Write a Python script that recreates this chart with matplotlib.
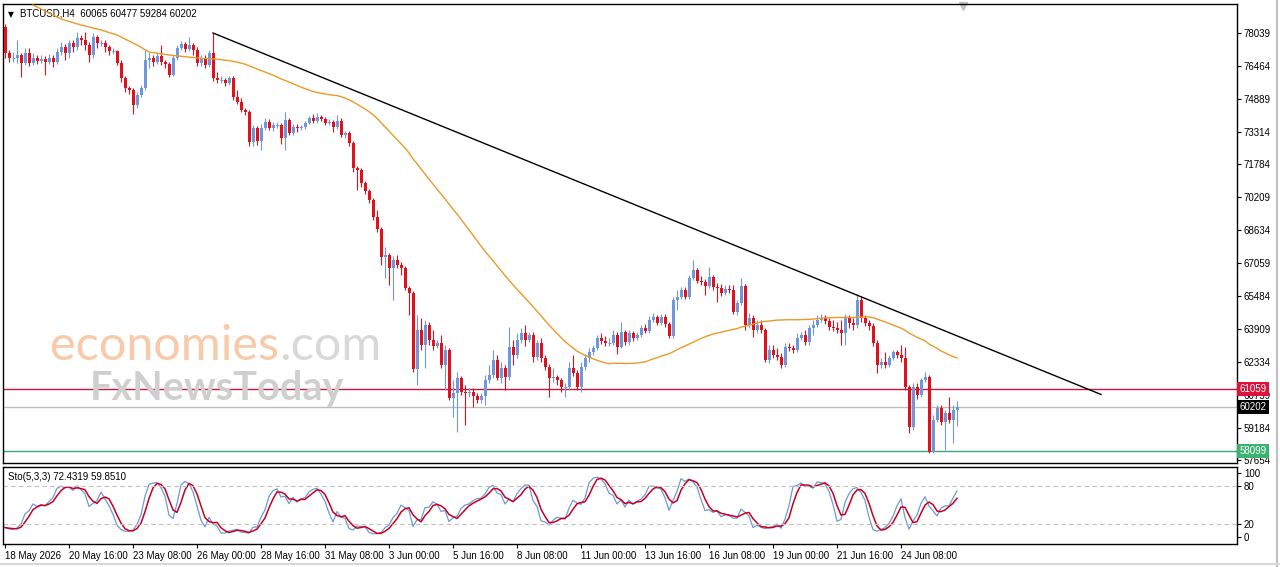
import numpy as np
import pandas as pd
import matplotlib
matplotlib.use("Agg")
import matplotlib.pyplot as plt
from matplotlib.transforms import blended_transform_factory
from matplotlib.lines import Line2D

# ---- data (BTCUSD H4) ----
symbol = "BTCUSD,H4"
first_open = 78311
closes = [
    77071, 76833, 76833, 76976, 76594, 77071, 76594, 76833, 76690, 76785,
    76642, 76833, 76642, 77119, 77357, 77071, 77548, 77357, 77786, 77691,
    77452, 76976, 77834, 77548, 77548, 77357, 77166, 77166, 76594, 75879,
    75402, 75307, 74592, 75068, 75402, 76737, 76833, 76642, 76928, 76642,
    76546, 76022, 76833, 77309, 77500, 77262, 77452, 77214, 76594, 76833,
    76499, 77071, 75879, 75784, 75784, 75641, 75879, 74973, 74735, 74353,
    74258, 72827, 73495, 72875, 73495, 73781, 73495, 73638, 73638, 73018,
    73876, 73256, 73543, 73495, 73543, 73733, 73972, 73829, 74020, 73924,
    73733, 73781, 73543, 73829, 73161, 73256, 72780, 71588, 71492, 70872,
    70491, 70062, 69251, 68679, 67344, 67440, 66820, 67201, 66963, 66820,
    65866, 65628, 62004, 63864, 63149, 64102, 63387, 63101, 63244, 62195,
    62910, 60621, 60860, 61575, 60908, 60860, 60908, 60717, 60526, 60717,
    61480, 61718, 62433, 61575, 62052, 61623, 63053, 62672, 63387, 63721,
    63387, 63626, 62577, 63244, 62529, 62100, 61575, 61623, 61480, 61146,
    61146, 62052, 61813, 61146, 62100, 62529, 62815, 63006, 63483, 63340,
    63244, 63244, 63626, 63053, 63768, 63292, 63721, 63483, 63626, 63959,
    63816, 64340, 64483, 64197, 64483, 64150, 63578, 65294, 65437, 65771,
    65437, 66343, 66724, 66200, 66152, 65961, 66391, 65914, 65866, 65628,
    65819, 65771, 64722, 65151, 65961, 64102, 64436, 63864, 64102, 63864,
    62433, 62910, 62672, 62577, 62195, 63053, 63006, 62910, 63483, 63626,
    63292, 63959, 64102, 64340, 64436, 64293, 64007, 63959, 63864, 63721,
    64483, 64197, 64102, 65294, 64436, 64197, 64054, 63244, 62195, 62338,
    62195, 62529, 62815, 62672, 62529, 61146, 59238, 61146, 60764, 61480,
    61623, 58046, 59572, 60145, 59477, 59906, 59572, 60065, 60202,
]
highs = [
    78454, 77214, 77119, 77691, 77071, 77309, 77309, 77071, 76976, 76976,
    76928, 77023, 76976, 77309, 77595, 77500, 77691, 77691, 78072, 77929,
    78072, 77595, 78025, 77929, 77691, 77691, 77452, 77309, 77214, 76737,
    75974, 75498, 75402, 75211, 75545, 77214, 77119, 76976, 77119, 77452,
    76737, 76642, 76976, 77452, 77643, 77595, 77834, 77548, 77357, 76976,
    76976, 77214, 78025, 76165, 75974, 75879, 75974, 75974, 75307, 74925,
    74449, 74353, 73638, 73590, 73686, 73972, 73924, 73781, 73781, 73733,
    74258, 73972, 73686, 73686, 73638, 73829, 74067, 74163, 74210, 74115,
    74020, 73924, 73876, 74115, 73972, 73352, 73352, 72875, 71683, 71588,
    70968, 70586, 70157, 69585, 68774, 67821, 67535, 67392, 67440, 67106,
    66915, 65961, 65724, 64579, 64436, 64340, 64245, 63864, 63387, 63626,
    63149, 63006, 61480, 61861, 61671, 61241, 61098, 61098, 60860, 60860,
    61718, 62195, 62910, 62672, 62338, 62195, 64007, 63387, 63721, 63959,
    64102, 63768, 63768, 63387, 63483, 62672, 62243, 62052, 61718, 61575,
    61337, 62338, 62672, 61957, 62338, 62720, 63006, 63149, 63626, 63721,
    63578, 63483, 63864, 63768, 64245, 63864, 63864, 63816, 63768, 64102,
    64150, 64531, 64674, 64579, 64627, 64627, 64245, 65437, 65771, 65914,
    65914, 66486, 67201, 66820, 66438, 66295, 66867, 66486, 66105, 66057,
    66009, 66009, 66009, 65294, 66343, 66057, 64674, 64579, 64340, 64340,
    63959, 63149, 63149, 63006, 62767, 63244, 63244, 63149, 63721, 63768,
    63864, 64102, 64340, 64579, 64627, 64579, 64436, 64340, 64245, 64340,
    64627, 64579, 64436, 65580, 65485, 64579, 64340, 64197, 63387, 62529,
    62815, 62672, 62910, 62910, 63149, 63053, 61241, 61337, 61337, 61575,
    61861, 61718, 59811, 60288, 60288, 60049, 60669, 60288, 60477,
]
lows = [
    76833, 76642, 76642, 76594, 75926, 76499, 76451, 76499, 76546, 76594,
    76022, 76546, 76403, 76546, 76976, 76737, 76833, 77119, 77214, 77452,
    77214, 76642, 76833, 77309, 77405, 77119, 76976, 77023, 76499, 75688,
    75211, 75116, 74163, 74449, 74973, 75307, 76356, 76451, 76546, 76499,
    76356, 75926, 75974, 76737, 77214, 77119, 77166, 76976, 76451, 76451,
    76356, 76403, 75736, 75641, 75641, 75498, 75545, 74830, 74639, 74258,
    74115, 72637, 72637, 72684, 72446, 73400, 73400, 73352, 73495, 72732,
    72446, 73161, 73161, 73304, 73400, 73447, 73686, 73733, 73733, 73829,
    73638, 73638, 73304, 73447, 73066, 73018, 72637, 71397, 70539, 70682,
    70348, 69919, 69108, 68536, 66963, 66343, 66009, 65294, 66820, 66486,
    65771, 64579, 61861, 61241, 62910, 62052, 63149, 62910, 63006, 62052,
    61003, 60526, 59715, 58999, 60764, 59334, 60669, 60192, 60383, 60383,
    60288, 61337, 61575, 61480, 61337, 61003, 61480, 62195, 62529, 63244,
    63101, 63292, 62338, 62433, 62338, 61957, 60669, 61385, 61241, 60908,
    60669, 61003, 61671, 61003, 60908, 61957, 62338, 62672, 62910, 63196,
    63101, 63101, 63149, 62720, 63006, 63149, 63149, 63340, 63387, 63530,
    63721, 63721, 64245, 64102, 64102, 64007, 63483, 63483, 64817, 65342,
    65342, 65342, 66248, 66105, 66009, 65532, 65866, 65771, 65199, 65485,
    65532, 65628, 64627, 64579, 65056, 63864, 63959, 63530, 63721, 63721,
    62338, 62290, 62529, 62433, 62052, 62100, 62863, 62767, 62815, 63387,
    63149, 63149, 63626, 64007, 64245, 64150, 63864, 63816, 63721, 63149,
    63149, 63959, 63864, 63959, 64245, 64054, 63864, 63101, 61813, 62052,
    62052, 62100, 62433, 62529, 62338, 61003, 58952, 59095, 60574, 60669,
    61385, 57990, 58010, 59477, 59334, 58142, 59429, 58475, 59284,
]

# orange 50-period MA: its first part (before 50 bars exist)
ma_period = 50
ma_early_idx = [7, 14, 19, 24, 28, 33, 36, 41, 48]
ma_early_val = [79360, 78692, 78406, 78168, 77929, 77452, 77119, 76976, 76833]

trend_start_idx, trend_end_idx = 52, 274
trend_end_price = 60790

level_values = [61059, 60202, 58099]
price_ticks = [78039, 76464, 74889, 73314, 71784, 70209, 68634, 67059,
               65484, 63909, 62334, 60759, 59184, 57654]
date_labels = ["18 May 2026", "20 May 16:00", "23 May 08:00", "26 May 00:00",
               "28 May 16:00", "31 May 08:00", "3 Jun 00:00", "5 Jun 16:00",
               "8 Jun 08:00", "11 Jun 00:00", "13 Jun 16:00", "16 Jun 08:00",
               "19 Jun 00:00", "21 Jun 16:00", "24 Jun 08:00"]
bars_per_label = 16
sto_text = "Sto(5,3,3) 72.4319 59.8510"
sto_ticks = [100, 80, 20, 0]
sto_levels = [80, 20]

# ---- derived series ----
closes = np.array(closes, float)
highs = np.array(highs, float)
lows = np.array(lows, float)
opens = np.r_[first_open, closes[:-1]]
idx = np.arange(len(closes))

ma = pd.Series(closes).rolling(ma_period).mean()
ma_x = np.r_[ma_early_idx, idx[ma_period - 1:]]
ma_y = np.r_[ma_early_val, ma.values[ma_period - 1:]]

ll = pd.Series(lows).rolling(5, min_periods=1).min()
hh = pd.Series(highs).rolling(5, min_periods=1).max()
num = (pd.Series(closes) - ll).rolling(3, min_periods=1).sum()
den = (hh - ll).rolling(3, min_periods=1).sum()
sto_main = 100 * num / den
sto_signal = sto_main.rolling(3, min_periods=1).mean()

# ---- figure ----
plt.rcParams["font.family"] = ["Liberation Sans", "DejaVu Sans"]
W, H = 1280, 567
fig = plt.figure(figsize=(W / 100, H / 100), dpi=100)
FS = 7


def px_rect(l, t, r, b):
    return [l / W, 1 - b / H, (r - l) / W, (b - t) / H]


ax = fig.add_axes(px_rect(3, 4, 1237, 463))
ax2 = fig.add_axes(px_rect(3, 467, 1237, 544))

BLUE = "#6f98dc"
RED = "#e0101c"
up = closes >= opens
cols = np.where(up, BLUE, RED)

ax.vlines(idx, lows, highs, colors=cols, lw=0.8, zorder=3)
ax.bar(idx, closes - opens, bottom=opens, width=0.75, color=cols,
       linewidth=0, zorder=4)
flat = closes == opens
ax.hlines(closes[flat], idx[flat] - 0.375, idx[flat] + 0.375,
          colors=cols[flat], lw=0.8, zorder=4)

ax.plot(ma_x, ma_y, color="#eb9a2a", lw=1.0, zorder=5)
ax.plot([trend_start_idx, trend_end_idx], [highs[trend_start_idx], trend_end_price],
        color="black", lw=1.0, zorder=5)

level_line_cols = ["#c8163c", "#bdbdbd", "#3aa87a"]
level_box_cols = ["#dc143c", "black", "#3cb371"]
for v, lc in zip(level_values, level_line_cols):
    ax.axhline(v, color=lc, lw=1.0, zorder=2)

ax.set_xlim(-0.5, 308)
ax.set_ylim(57522, 79407)
ax.set_xticks([])
ax.yaxis.tick_right()
ax.set_yticks(price_ticks)
ax.set_yticklabels([str(t) for t in price_ticks])
ax.tick_params(axis="y", direction="out", length=3, pad=2, labelsize=FS, width=0.8)

tr = blended_transform_factory(ax.transAxes, ax.transData)
for v, bc in zip(level_values, level_box_cols):
    ax.text(1.002, v, str(v), transform=tr, va="center", ha="left", fontsize=FS,
            color="white", zorder=10,
            bbox=dict(boxstyle="square,pad=0.22", fc=bc, ec="none"))

ax.text(0.004, 0.986, "\u25bc", transform=ax.transAxes, va="top", ha="left",
        fontsize=5.5, family="DejaVu Sans")
ax.text(0.014, 0.99,
        f"{symbol}  {opens[-1]:.0f} {highs[-1]:.0f} {lows[-1]:.0f} {closes[-1]:.0f}",
        transform=ax.transAxes, va="top", ha="left", fontsize=FS)
ax.plot([239.5], [0.995], marker="v", ms=6, color="#c4c4c4",
        transform=blended_transform_factory(ax.transData, ax.transAxes),
        clip_on=False, zorder=1)

# stochastic panel
ax2.plot(idx, sto_main, color="#6d9ad6", lw=0.9)
ax2.plot(idx, sto_signal, color="#c8001e", lw=1.1)
for lv in sto_levels:
    ax2.axhline(lv, color="#c0c0c0", lw=0.8, ls=(0, (4, 3)))
ax2.set_xlim(-0.5, 308)
ax2.set_ylim(-11, 109)
ax2.yaxis.tick_right()
ax2.set_yticks(sto_ticks)
ax2.set_yticklabels([str(t) for t in sto_ticks])
ax2.tick_params(axis="y", direction="out", length=3, pad=2, labelsize=FS, width=0.8)
ticks_x = idx[::bars_per_label][:len(date_labels)]
ax2.set_xticks(ticks_x)
ax2.set_xticklabels(date_labels, ha="left")
ax2.tick_params(axis="x", direction="out", length=3, pad=2, labelsize=FS, width=0.8)
ax2.text(0.004, 0.93, sto_text, transform=ax2.transAxes, va="top", ha="left", fontsize=FS)

for a in (ax, ax2):
    for s in a.spines.values():
        s.set_linewidth(1.0)

# watermark
t1 = fig.text(50 / W, 1 - 360 / H, "economies", fontsize=35, color="#f8caa9",
              family="Lato", va="baseline", ha="left")
ax.annotate(".com", xy=(1, 0), xycoords=t1, va="bottom", ha="left", fontsize=35,
            color="#d8d8d8", family="Lato")
fig.text(90 / W, 1 - 400 / H, "FxNewsToday", fontsize=28.5, color="#cfcfcf",
         family="Lato", weight="bold", va="baseline", ha="left")

# window frame
fig.add_artist(Line2D([1277 / W, 1277 / W], [0, 1], color="#c0c0c0", lw=1.5))
fig.add_artist(Line2D([0, 1], [3 / H, 3 / H], color="#d8d8d8", lw=1.5))

fig.savefig("out.png", dpi=100)
plt.close(fig)
